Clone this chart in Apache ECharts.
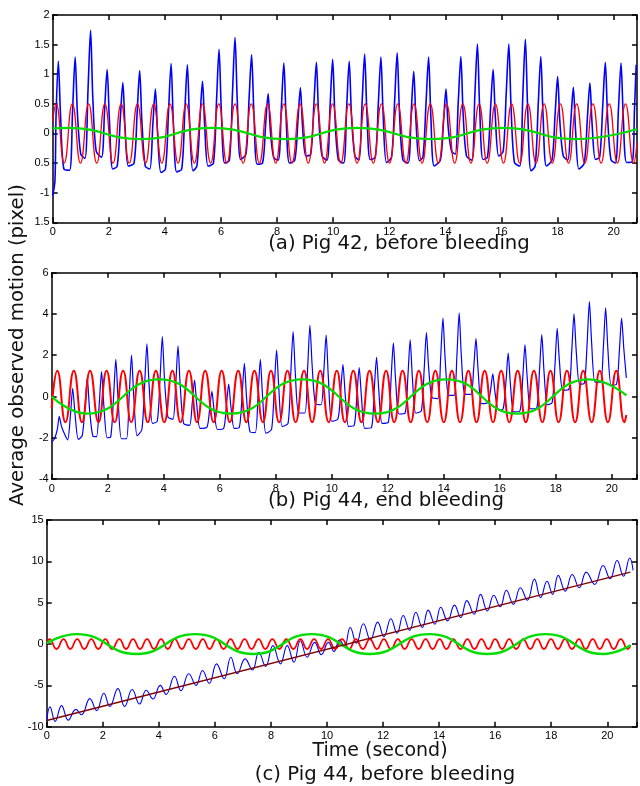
<!DOCTYPE html>
<html>
<head>
<meta charset="utf-8">
<script src="https://cdn.jsdelivr.net/npm/echarts@6/dist/echarts.min.js"></script>
<style>
  html, body { margin: 0; padding: 0; background: #fff; }
  #chart { width: 640px; height: 786px; }
</style>
</head>
<body>
<div id="chart"></div>
<script>
// tick labels
var xTicks = [0, 2, 4, 6, 8, 10, 12, 14, 16, 18, 20];
var xLabels = ['0', '2', '4', '6', '8', '10', '12', '14', '16', '18', '20'];
var yTicksA = [-1.5, -1, -0.5, 0, 0.5, 1, 1.5, 2];
var yLabelsA = ['1.5', '-1', '0.5', '0', '0.5', '1', '1.5', '2'];
var captions = ['(a) Pig 42, before bleeding', '(b) Pig 44, end bleeding', '(c) Pig 44, before bleeding'];

// (a) Pig 42, before bleeding
var blueA = [[0,-1.05],[0.08,-0.8],[0.12,0.3],[0.2,1.22],[0.28,0.3],[0.4,-0.6],[0.6,-0.62],
  [0.71,0.4],[0.8,1.29],[0.88,0.35],[1.0,-0.35],[1.15,-0.42],
  [1.26,0.75],[1.35,1.74],[1.43,0.6],[1.55,-0.3],[1.74,-0.4],
  [1.85,0.4],[1.94,1.08],[2.02,0.25],[2.14,-0.6],[2.3,-0.55],
  [2.41,0.25],[2.5,0.86],[2.58,0.1],[2.7,-0.55],[2.9,-0.5],
  [3.01,0.35],[3.1,1.06],[3.18,0.2],[3.3,-0.55],[3.46,-0.6],
  [3.57,0.15],[3.66,0.75],[3.74,0.0],[3.86,-0.66],[4.02,-0.6],
  [4.13,0.38],[4.22,1.18],[4.3,0.2],[4.42,-0.65],[4.6,-0.6],
  [4.71,0.38],[4.8,1.16],[4.88,0.2],[5.0,-0.63],[5.14,-0.55],
  [5.25,0.25],[5.34,0.88],[5.42,0.12],[5.54,-0.55],[5.73,-0.5],
  [5.84,0.55],[5.93,1.42],[6.01,0.4],[6.13,-0.5],[6.3,-0.45],
  [6.41,0.7],[6.5,1.62],[6.58,0.55],[6.7,-0.44],[6.89,-0.35],
  [7.0,0.58],[7.09,1.33],[7.17,0.38],[7.29,-0.52],[7.48,-0.5],
  [7.59,0.15],[7.68,0.67],[7.76,0.05],[7.88,-0.41],[8.04,-0.45],
  [8.15,0.42],[8.24,1.19],[8.32,0.28],[8.44,-0.5],[8.63,-0.45],
  [8.74,0.2],[8.83,0.77],[8.91,0.1],[9.03,-0.38],[9.2,-0.35],
  [9.31,0.48],[9.4,1.2],[9.48,0.32],[9.6,-0.38],[9.78,-0.45],
  [9.89,0.48],[9.98,1.25],[10.06,0.3],[10.18,-0.44],[10.37,-0.5],
  [10.48,0.45],[10.57,1.22],[10.65,0.32],[10.77,-0.38],[10.92,-0.45],
  [11.03,0.52],[11.12,1.34],[11.2,0.36],[11.32,-0.44],[11.5,-0.4],
  [11.61,0.52],[11.7,1.29],[11.78,0.32],[11.9,-0.49],[12.08,-0.4],
  [12.19,0.55],[12.28,1.36],[12.36,0.38],[12.48,-0.44],[12.67,-0.5],
  [12.78,0.35],[12.87,1.05],[12.95,0.22],[13.07,-0.46],[13.2,-0.4],
  [13.31,0.52],[13.4,1.29],[13.48,0.3],[13.6,-0.55],[13.82,-0.45],
  [13.93,0.18],[14.02,0.75],[14.1,0.1],[14.22,-0.3],[14.35,-0.35],
  [14.46,0.55],[14.55,1.3],[14.63,0.35],[14.75,-0.38],[14.94,-0.45],
  [15.05,0.65],[15.14,1.51],[15.22,0.45],[15.34,-0.44],[15.5,-0.4],
  [15.61,0.42],[15.7,1.08],[15.78,0.28],[15.9,-0.38],[16.06,-0.3],
  [16.17,0.7],[16.26,1.51],[16.34,0.45],[16.46,-0.49],[16.65,-0.55],
  [16.76,0.65],[16.85,1.59],[16.93,0.45],[17.05,-0.63],[17.2,-0.55],
  [17.31,0.5],[17.4,1.3],[17.48,0.32],[17.6,-0.55],[17.8,-0.45],
  [17.91,0.32],[18.0,0.96],[18.08,0.2],[18.2,-0.38],[18.36,-0.45],
  [18.47,0.2],[18.56,0.78],[18.64,0.05],[18.76,-0.6],[18.95,-0.5],
  [19.06,0.25],[19.15,0.85],[19.23,0.15],[19.35,-0.44],[19.5,-0.4],
  [19.61,0.48],[19.7,1.2],[19.78,0.3],[19.9,-0.44],[20.06,-0.5],
  [20.17,0.42],[20.26,1.19],[20.34,0.28],[20.46,-0.49],[20.66,-0.48],
  [20.74,0.4],[20.8,1.16]];
var redA = [[0,0.2],[0.12,0.5],[0.41,-0.5],[0.70,0.5],[0.99,-0.5],[1.28,0.5],[1.57,-0.5],[1.86,0.5],[2.15,-0.5],
  [2.44,0.5],[2.73,-0.5],[3.02,0.5],[3.31,-0.5],[3.60,0.5],[3.89,-0.5],[4.18,0.5],[4.47,-0.5],[4.76,0.5],[5.05,-0.5],
  [5.34,0.5],[5.63,-0.5],[5.92,0.5],[6.21,-0.5],[6.50,0.5],[6.79,-0.5],[7.08,0.5],[7.37,-0.5],[7.66,0.5],[7.95,-0.5],
  [8.24,0.5],[8.53,-0.5],[8.82,0.5],[9.11,-0.5],[9.40,0.5],[9.69,-0.5],[9.98,0.5],[10.27,-0.5],[10.56,0.5],[10.85,-0.5],
  [11.14,0.5],[11.43,-0.5],[11.72,0.5],[12.01,-0.5],[12.30,0.5],[12.59,-0.5],[12.88,0.5],[13.17,-0.5],[13.46,0.5],
  [13.75,-0.5],[14.04,0.5],[14.33,-0.5],[14.62,0.5],[14.91,-0.5],[15.20,0.5],[15.49,-0.5],[15.78,0.5],[16.07,-0.5],
  [16.36,0.5],[16.65,-0.5],[16.94,0.5],[17.23,-0.5],[17.52,0.5],[17.81,-0.5],[18.10,0.5],[18.39,-0.5],[18.68,0.5],
  [18.97,-0.5],[19.26,0.5],[19.55,-0.5],[19.84,0.5],[20.13,-0.5],[20.42,0.5],[20.71,-0.5],[20.83,-0.15]];
var greenA = [[0,0.085],[0.55,0.095],[3.15,-0.095],[5.65,0.095],[8.3,-0.095],[10.85,0.095],[13.5,-0.095],
  [16.05,0.095],[18.65,-0.095],[20.83,0.075]];

// (b) Pig 44, end bleeding
var blueB = [[0,-2.2],[0.1,-2.05],[0.2,-1.6],[0.27,-0.96],[0.34,-1.4],[0.45,-1.8],[0.57,-2.1],
  [0.67,-0.9],[0.75,0.4],[0.83,-0.8],[0.95,-2.08],[1.09,-1.9],
  [1.19,-0.5],[1.27,0.9],[1.35,-0.6],[1.47,-1.92],[1.6,-1.95],
  [1.7,-0.3],[1.78,1.2],[1.86,-0.4],[1.98,-2.0],[2.11,-1.95],
  [2.21,0.0],[2.29,1.8],[2.37,-0.1],[2.49,-2.05],[2.67,-2.05],
  [2.77,0.1],[2.85,2.0],[2.93,0.0],[3.05,-1.9],[3.22,-1.6],
  [3.32,0.6],[3.4,2.55],[3.48,0.5],[3.6,-1.3],[3.77,-1.2],
  [3.87,0.9],[3.95,2.9],[4.03,0.8],[4.15,-1.0],[4.33,-1.1],
  [4.43,0.6],[4.51,2.45],[4.59,0.5],[4.71,-1.3],[4.92,-1.4],
  [5.02,-0.3],[5.1,0.8],[5.18,-0.4],[5.3,-1.55],[5.54,-1.5],
  [5.64,-0.6],[5.72,0.25],[5.8,-0.7],[5.92,-1.6],[6.14,-1.55],
  [6.24,-0.4],[6.32,0.6],[6.4,-0.5],[6.52,-1.55],[6.7,-1.5],
  [6.8,0.1],[6.88,1.6],[6.96,-0.1],[7.08,-1.7],[7.27,-1.75],
  [7.37,0.1],[7.45,1.8],[7.53,0.0],[7.65,-1.78],[7.85,-1.6],
  [7.95,0.5],[8.03,2.25],[8.11,0.4],[8.23,-1.45],[8.44,-1.3],
  [8.54,1.2],[8.62,3.15],[8.7,1.1],[8.82,-0.8],[9.04,-0.8],
  [9.14,1.4],[9.22,3.45],[9.3,1.5],[9.42,-0.35],[9.62,-0.4],
  [9.72,1.3],[9.8,2.98],[9.88,0.9],[10.0,-1.2],[10.22,-1.1],
  [10.32,0.3],[10.4,1.55],[10.48,0.1],[10.6,-1.45],[10.8,-1.4],
  [10.9,0.1],[10.98,1.4],[11.06,0.0],[11.18,-1.55],[11.42,-1.5],
  [11.52,0.4],[11.6,1.9],[11.68,0.3],[11.8,-1.3],[12.02,-1.25],
  [12.12,0.9],[12.2,2.6],[12.28,0.8],[12.4,-0.85],[12.62,-0.8],
  [12.72,1.0],[12.8,2.75],[12.88,0.9],[13.0,-0.8],[13.2,-0.7],
  [13.3,1.3],[13.38,3.1],[13.46,1.4],[13.58,-0.05],[13.79,-0.1],
  [13.89,1.9],[13.97,3.8],[14.05,1.8],[14.17,0.07],[14.37,0.05],
  [14.47,2.0],[14.55,4.05],[14.63,1.9],[14.75,0.12],[14.97,0.1],
  [15.07,1.4],[15.15,2.8],[15.23,1.2],[15.35,-0.35],[15.57,-0.3],
  [15.67,0.3],[15.75,1.1],[15.83,0.2],[15.95,-0.65],[16.12,-0.6],
  [16.22,0.7],[16.3,2.1],[16.38,0.6],[16.5,-0.75],[16.72,-0.7],
  [16.82,0.9],[16.9,2.5],[16.98,0.9],[17.1,-0.6],[17.32,-0.55],
  [17.42,1.3],[17.5,3.0],[17.58,1.2],[17.7,-0.4],[17.87,-0.3],
  [17.97,1.5],[18.05,3.3],[18.13,1.7],[18.25,0.3],[18.47,0.35],
  [18.57,2.2],[18.65,4.0],[18.73,2.2],[18.85,0.6],[19.02,0.65],
  [19.12,2.6],[19.2,4.6],[19.28,2.6],[19.4,0.7],[19.6,0.7],
  [19.7,2.4],[19.78,4.3],[19.86,2.3],[19.98,0.55],[20.17,0.6],
  [20.27,2.2],[20.35,3.8],[20.43,2.3],[20.52,0.9]];
var redB = [[0,-0.55],[0.20,1.25],[0.49,-1.25],[0.79,1.25],[1.08,-1.25],[1.37,1.25],[1.67,-1.25],[1.96,1.25],
  [2.25,-1.25],[2.55,1.25],[2.84,-1.25],[3.14,1.25],[3.43,-1.25],[3.72,1.25],[4.02,-1.25],[4.31,1.25],[4.60,-1.25],
  [4.90,1.25],[5.19,-1.25],[5.48,1.25],[5.78,-1.25],[6.07,1.25],[6.36,-1.25],[6.66,1.25],[6.95,-1.25],[7.24,1.25],
  [7.54,-1.25],[7.83,1.25],[8.12,-1.25],[8.42,1.25],[8.71,-1.25],[9.01,1.25],[9.30,-1.25],[9.59,1.25],[9.89,-1.25],
  [10.18,1.25],[10.47,-1.25],[10.77,1.25],[11.06,-1.25],[11.35,1.25],[11.65,-1.25],[11.94,1.25],[12.23,-1.25],
  [12.53,1.25],[12.82,-1.25],[13.11,1.25],[13.41,-1.25],[13.70,1.25],[14.0,-1.25],[14.29,1.25],[14.58,-1.25],
  [14.88,1.25],[15.17,-1.25],[15.46,1.25],[15.76,-1.25],[16.05,1.25],[16.34,-1.25],[16.64,1.25],[16.93,-1.25],
  [17.22,1.25],[17.52,-1.25],[17.81,1.25],[18.10,-1.25],[18.40,1.25],[18.69,-1.25],[18.98,1.25],[19.28,-1.25],
  [19.57,1.25],[19.86,-1.25],[20.16,1.25],[20.45,-1.25],[20.52,-0.9]];
var greenB = [[0,0],[1.25,-0.83],[3.85,0.83],[6.4,-0.83],[8.95,0.83],[11.55,-0.83],[14.1,0.83],[16.62,-0.83],
  [19.18,0.83],[20.52,0.05]];

// (c) Pig 44, before bleeding
var blueC = [[0,-9.3],[0.12,-7.6],[0.3,-9.35],[0.53,-7.45],[0.77,-9.2],[1.04,-7.9],[1.24,-8.55],[1.54,-6.6],
  [1.78,-8.05],[2.04,-5.95],[2.25,-7.55],[2.54,-5.4],[2.78,-7.55],[3.05,-5.5],[3.31,-7.25],[3.55,-5.6],[3.79,-6.65],
  [4.05,-5.0],[4.26,-6.1],[4.56,-3.9],[4.79,-5.65],[5.07,-3.6],[5.33,-5.0],[5.56,-3.2],[5.8,-4.75],[6.06,-2.4],
  [6.33,-4.2],[6.57,-1.6],[6.8,-3.6],[7.08,-1.8],[7.34,-3.15],[7.57,-1.0],[7.81,-2.7],[8.07,-0.2],[8.34,-2.4],
  [8.58,-0.2],[8.82,-2.2],[9.05,0.4],[9.29,-1.6],[9.56,0.2],[9.8,-1.3],[10.05,0.2],[10.25,-0.9],[10.45,0.5],
  [10.62,-0.3],[10.83,2.0],[11.05,0.1],[11.3,2.45],[11.55,0.5],[11.81,2.65],[12.03,0.9],[12.28,3.05],[12.5,1.3],
  [12.72,3.45],[12.95,1.65],[13.17,3.85],[13.4,2.0],[13.61,4.1],[13.85,2.4],[14.06,4.45],[14.3,2.8],[14.55,4.7],
  [14.77,3.2],[14.99,5.25],[15.25,3.6],[15.48,6.0],[15.72,4.0],[15.95,5.9],[16.18,4.5],[16.4,6.5],[16.65,4.8],
  [16.9,6.8],[17.15,5.3],[17.4,7.85],[17.62,5.6],[17.85,7.6],[18.05,6.0],[18.25,8.3],[18.5,6.4],[18.75,8.4],
  [19.0,6.8],[19.25,8.7],[19.55,7.2],[19.85,9.5],[20.1,7.9],[20.35,10.1],[20.58,8.2],[20.8,10.4],[20.92,8.9]];
var redC = [[0,0.15],[0.10,0.6],[0.35,-0.6],[0.60,0.6],[0.84,-0.6],[1.09,0.6],[1.34,-0.6],[1.59,0.6],[1.84,-0.6],
  [2.09,0.6],[2.33,-0.6],[2.59,0.6],[2.83,-0.6],[3.08,0.6],[3.33,-0.6],[3.58,0.6],[3.83,-0.6],[4.08,0.6],[4.32,-0.6],
  [4.57,0.6],[4.82,-0.6],[5.07,0.6],[5.32,-0.6],[5.57,0.6],[5.81,-0.6],[6.06,0.6],[6.31,-0.6],[6.56,0.6],[6.81,-0.6],
  [7.06,0.6],[7.31,-0.6],[7.56,0.6],[7.80,-0.6],[8.05,0.6],[8.30,-0.6],[8.55,0.6],[8.80,-0.6],[9.05,0.6],[9.29,-0.6],
  [9.54,0.6],[9.79,-0.6],[10.04,0.6],[10.29,-0.6],[10.54,0.6],[10.79,-0.6],[11.03,0.6],[11.28,-0.6],[11.53,0.6],
  [11.78,-0.6],[12.03,0.6],[12.28,-0.6],[12.53,0.6],[12.77,-0.6],[13.02,0.6],[13.27,-0.6],[13.52,0.6],[13.77,-0.6],
  [14.02,0.6],[14.26,-0.6],[14.51,0.6],[14.76,-0.6],[15.01,0.6],[15.26,-0.6],[15.51,0.6],[15.76,-0.6],[16.0,0.6],
  [16.25,-0.6],[16.50,0.6],[16.75,-0.6],[17.0,0.6],[17.25,-0.6],[17.50,0.6],[17.74,-0.6],[17.99,0.6],[18.24,-0.6],
  [18.49,0.6],[18.74,-0.6],[18.99,0.6],[19.23,-0.6],[19.48,0.6],[19.73,-0.6],[19.98,0.6],[20.23,-0.6],[20.48,0.6],
  [20.73,-0.6],[20.83,-0.15]];
var greenC = [[0,0.1],[1.07,1.2],[3.2,-1.2],[5.3,1.2],[7.38,-1.2],[9.45,1.2],[11.52,-1.2],[13.65,1.2],[15.72,-1.2],
  [17.8,1.2],[19.85,-1.2],[20.83,-0.15]];
var trendC = [[0,-9.25],[20.82,8.7]];

var chart = echarts.init(document.getElementById('chart'));

function xFmt(v) {
  var i = xTicks.indexOf(Math.round(v * 100) / 100);
  return i < 0 ? '' : xLabels[i];
}
function yFmtA(v) {
  var i = yTicksA.indexOf(Math.round(v * 100) / 100);
  return i < 0 ? '' : yLabelsA[i];
}

var labelStyle = { color: '#000', fontFamily: 'Liberation Sans', fontSize: 11 };
var lineStyle = { color: '#000', width: 1.5 };

// one panel = bottom/top x axes and left/right y axes on one grid
function xAxes(grid, max) {
  return [
    { type: 'value', gridIndex: grid, position: 'bottom', min: 0, max: max, interval: 2,
      axisLine: { onZero: false, lineStyle: lineStyle }, axisTick: { inside: true, length: 5, lineStyle: lineStyle },
      axisLabel: Object.assign({ margin: 4, formatter: xFmt }, labelStyle), splitLine: { show: false } },
    { type: 'value', gridIndex: grid, position: 'top', min: 0, max: max, interval: 2,
      axisLine: { onZero: false, lineStyle: lineStyle }, axisTick: { inside: true, length: 5, lineStyle: lineStyle },
      axisLabel: { show: false }, splitLine: { show: false } }
  ];
}
function yAxes(grid, min, max, interval, fmt) {
  return [
    { type: 'value', gridIndex: grid, position: 'left', min: min, max: max, interval: interval,
      axisLine: { onZero: false, lineStyle: lineStyle }, axisTick: { inside: true, length: 5, lineStyle: lineStyle },
      axisLabel: Object.assign({ margin: 3, formatter: fmt }, labelStyle), splitLine: { show: false } },
    { type: 'value', gridIndex: grid, position: 'right', min: min, max: max, interval: interval,
      axisLine: { onZero: false, lineStyle: lineStyle }, axisTick: { inside: true, length: 5, lineStyle: lineStyle },
      axisLabel: { show: false }, splitLine: { show: false } }
  ];
}
function line(data, axis, color, width, smooth) {
  return { type: 'line', data: data, xAxisIndex: axis, yAxisIndex: axis, showSymbol: false,
    smooth: smooth, lineStyle: { color: color, width: width }, animation: false, silent: true };
}

var option = {
  backgroundColor: '#fff',
  animation: false,
  grid: [
    { left: 52.7, top: 15, width: 587.3, height: 207.3 },
    { left: 51.7, top: 272.7, width: 588.3, height: 206.3 },
    { left: 46.7, top: 520, width: 593.3, height: 206.7 }
  ],
  xAxis: [].concat(xAxes(0, 20.83), xAxes(1, 20.9), xAxes(2, 21.06)),
  yAxis: [].concat(
    yAxes(0, -1.5, 2, 0.5, yFmtA),
    yAxes(1, -4, 6, 2, '{value}'),
    yAxes(2, -10, 15, 5, '{value}')
  ),
  series: [
    line(blueA, 0, '#0000ff', 1.6, 0.3),
    line(redA, 0, '#ff0000', 1.3, 0.5),
    line(greenA, 0, '#00dd00', 2.2, 0.5),
    line(blueB, 2, '#0000ff', 1.2, 0.25),
    line(redB, 2, '#ff0000', 2, 0.5),
    line(greenB, 2, '#00dd00', 2.2, 0.5),
    line(blueC, 4, '#0000ff', 1.1, 0.45),
    line(redC, 4, '#ff0000', 1.8, 0.5),
    line(greenC, 4, '#00dd00', 2.4, 0.5),
    line(trendC, 4, '#800000', 1.3, false)
  ]
};

var textFont = { fontFamily: 'DejaVu Sans', fontSize: 19.7, fill: '#111', textAlign: 'center', textVerticalAlign: 'middle' };
option.graphic = [
  { type: 'text', x: 399, y: 244, style: Object.assign({ text: captions[0] }, textFont) },
  { type: 'text', x: 386, y: 501, style: Object.assign({ text: captions[1] }, textFont) },
  { type: 'text', x: 380, y: 751, style: Object.assign({ text: 'Time (second)' }, textFont, { fontSize: 19 }) },
  { type: 'text', x: 385, y: 775, style: Object.assign({ text: captions[2] }, textFont) },
  { type: 'text', x: 18, y: 345, rotation: Math.PI / 2, style: Object.assign({ text: 'Average observed motion (pixel)' }, textFont) }
];

chart.setOption(option);
</script>
</body>
</html>
